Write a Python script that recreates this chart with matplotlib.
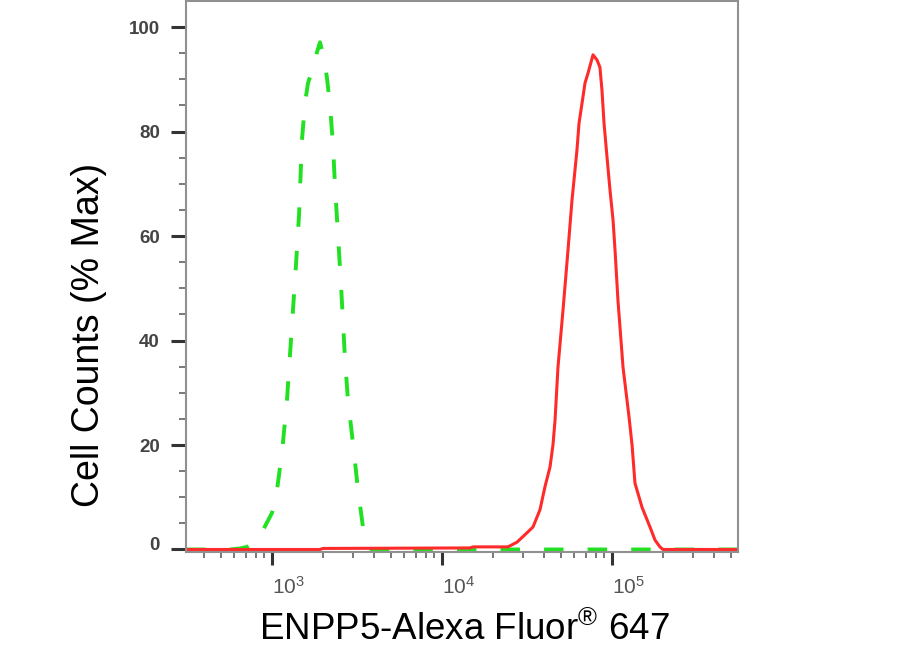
import matplotlib
matplotlib.use("Agg")
import matplotlib.pyplot as plt
import matplotlib.transforms as mtransforms
from matplotlib.ticker import FixedLocator, LogLocator, NullFormatter
import numpy as np

plt.rcParams['font.family'] = ['Liberation Sans', 'DejaVu Sans']
plt.rcParams['mathtext.fontset'] = 'custom'
plt.rcParams['mathtext.rm'] = 'Liberation Sans'
plt.rcParams['mathtext.it'] = 'Liberation Sans:italic'
plt.rcParams['mathtext.bf'] = 'Liberation Sans:bold'

# isotype control (green dashed)
ctrl_x = [312, 566, 649, 713, 794, 885, 1000, 1070, 1145, 1225, 1311, 1384, 1442,
          1501, 1563, 1629, 1742, 1839, 1915, 2022, 2107, 2193, 2285, 2349, 2445,
          2547, 2687, 2798, 2993, 3206, 3428, 3672, 3874, 550000]
ctrl_y = [0, 0, 0.2, 0.5, 1.4, 3.7, 7.0, 11.4, 18.5, 28.6, 43.0, 54.5, 64.0,
          78.4, 85.5, 89.3, 92.2, 95.2, 97.1, 94.1, 90.2, 85.1, 77.4, 69.4, 60.2,
          50.6, 36.5, 28.6, 20.4, 11.4, 4.3, 0.5, 0, 0]

# ENPP5 stained sample (red solid)
enpp5_x = [312, 1915, 1995, 14620, 15210, 24430, 27620, 31620, 34290, 37690,
           40330, 43190, 44950, 46240, 48110, 51490, 55100, 58180, 62230, 63980,
           66680, 69380, 72290, 77330, 81650, 84920, 87310, 89760, 93470, 97330,
           101400, 104200, 108400, 116100, 125900, 131200, 136500, 150100,
           167300, 179100, 191400, 199500, 550000]
enpp5_y = [0, 0, 0.2, 0.3, 0.5, 0.5, 1.4, 3.2, 4.3, 7.6,
           12.0, 15.8, 20.0, 24.8, 34.9, 45.8, 57.3, 66.9, 76.5, 81.6,
           85.5, 89.3, 91.2, 94.7, 93.7, 92.3, 87.9, 81.6, 75.1, 68.8,
           63.1, 57.3, 47.7, 34.9, 25.4, 20.0, 12.7, 8.1,
           4.3, 1.8, 0.5, 0, 0]

y_major = [0, 20, 40, 60, 80, 100]
y_minor = [5, 10, 15, 25, 30, 35, 45, 50, 55, 65, 70, 75, 85, 90, 95]
x_major = [1e3, 1e4, 1e5]
x_labels = [r'$10^{3}$', r'$10^{4}$', r'$10^{5}$']

fig = plt.figure(figsize=(9.1, 6.54), dpi=100)
ax = fig.add_axes([186 / 910, 1 - 552 / 654, (738 - 186) / 910, (552 - 1) / 654])

ax.plot(ctrl_x, ctrl_y, color='#22e022', lw=2.8, linestyle=(0, (5.0, 6.2)),
        solid_capstyle='butt', dash_capstyle='butt')
ax.plot(enpp5_x, enpp5_y, color='#ff2a2a', lw=2.2)

ax.set_xscale('log')
ax.set_xlim(312, 551000)
ax.set_ylim(-0.48, 105.0)

for s in ax.spines.values():
    s.set_color('#909090')
    s.set_linewidth(1.5)

ax.set_yticks(y_major)
ax.set_yticklabels([str(v) for v in y_major])
ax.yaxis.set_minor_locator(FixedLocator(y_minor))
ax.set_xticks(x_major)
ax.set_xticklabels(x_labels)
ax.xaxis.set_minor_locator(LogLocator(base=10, subs=np.arange(2, 10)))
ax.xaxis.set_minor_formatter(NullFormatter())

ax.tick_params(axis='y', which='major', direction='out', length=10.8, width=2.2,
               color='#333333', pad=8.0, labelsize=13.5, labelcolor='#444444')
ax.tick_params(axis='y', which='minor', direction='out', length=5, width=1.1,
               color='#555555')
ax.tick_params(axis='x', which='major', direction='out', length=9.4, width=2.2,
               color='#333333', pad=8, labelsize=15, labelcolor='#555555')
ax.tick_params(axis='x', which='minor', direction='out', length=4.3, width=1.1,
               color='#555555')

for lbl in ax.get_yticklabels():
    lbl.set_fontweight('bold')
for lbl in ax.get_xticklabels():
    lbl.set_ha('left')

# the "0" label sits a little above its tick
lbl0 = ax.get_yticklabels()[0]
lbl0.set_transform(lbl0.get_transform() + mtransforms.ScaledTranslation(0, 6 / 100, fig.dpi_scale_trans))

fig.text(464 / 910, 1 - 640 / 654, r'ENPP5-Alexa Fluor$^{\mathrm{®}}$ 647',
         ha='center', va='baseline', fontsize=26.5, color='black')
fig.text(89 / 910, 1 - 335 / 654, 'Cell Counts (% Max)', rotation=90,
         ha='center', va='center', fontsize=27, color='black')

fig.savefig('out.png', dpi=100)
